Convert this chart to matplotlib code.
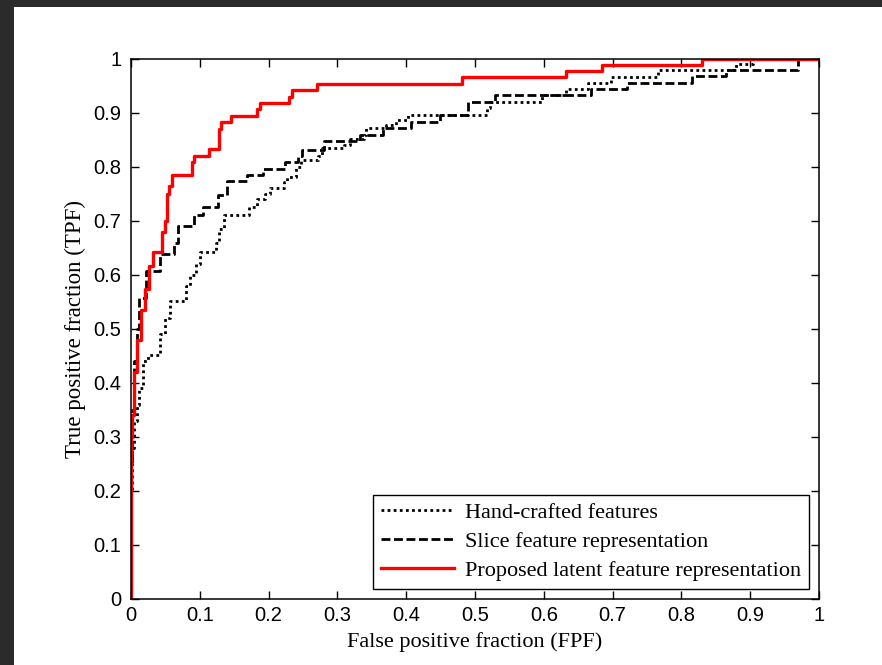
import matplotlib
matplotlib.use("Agg")
import matplotlib.pyplot as plt
from matplotlib.patches import Rectangle

# ROC curves : (fpr where tpr jumps, new tpr)
fpr_hand = [0, 0, 0.002, 0.004, 0.008, 0.012, 0.018, 0.024, 0.042, 0.050, 0.056, 0.080,
            0.086, 0.094, 0.100, 0.123, 0.128, 0.135, 0.172, 0.183, 0.195, 0.202, 0.222,
            0.227, 0.240, 0.247, 0.272, 0.278, 0.310, 0.318, 0.338, 0.342, 0.370, 0.385,
            0.402, 0.517, 0.522, 0.597, 0.632, 0.664, 0.697, 0.766, 0.880, 0.904, 1.0]
tpr_hand = [0, 0.20, 0.28, 0.33, 0.36, 0.39, 0.44, 0.452, 0.49, 0.52, 0.551, 0.58,
            0.60, 0.62, 0.643, 0.66, 0.685, 0.711, 0.726, 0.74, 0.75, 0.762, 0.772,
            0.782, 0.80, 0.813, 0.82, 0.835, 0.84, 0.851, 0.86, 0.872, 0.877, 0.887,
            0.896, 0.91, 0.921, 0.933, 0.944, 0.956, 0.967, 0.98, 0.991, 1.0, 1.0]

fpr_slice = [0, 0, 0.002, 0.004, 0.009, 0.012, 0.022, 0.042, 0.062, 0.069, 0.091, 0.105,
             0.127, 0.139, 0.168, 0.192, 0.224, 0.243, 0.248, 0.281, 0.333, 0.367, 0.407,
             0.449, 0.49, 0.529, 0.669, 0.721, 0.816, 0.865, 0.969, 1.0]
tpr_slice = [0, 0.25, 0.35, 0.44, 0.50, 0.557, 0.607, 0.638, 0.66, 0.69, 0.712, 0.726,
             0.749, 0.774, 0.785, 0.797, 0.81, 0.82, 0.831, 0.848, 0.859, 0.873, 0.884,
             0.896, 0.921, 0.933, 0.944, 0.956, 0.969, 0.98, 1.0, 1.0]

fpr_latent = [0, 0, 0.002, 0.005, 0.009, 0.0145, 0.020, 0.026, 0.032, 0.045, 0.049,
              0.052, 0.055, 0.060, 0.088, 0.092, 0.113, 0.128, 0.131, 0.146, 0.183,
              0.1875, 0.230, 0.234, 0.270, 0.481, 0.632, 0.684, 0.830, 1.0]
tpr_latent = [0, 0.30, 0.34, 0.42, 0.48, 0.535, 0.575, 0.617, 0.642, 0.68, 0.70,
              0.75, 0.765, 0.786, 0.81, 0.82, 0.833, 0.87, 0.883, 0.895, 0.907,
              0.918, 0.93, 0.942, 0.954, 0.966, 0.977, 0.989, 1.0, 1.0]

labels = ["Hand-crafted features", "Slice feature representation",
          "Proposed latent feature representation"]
ticks = [0, 0.1, 0.2, 0.3, 0.4, 0.5, 0.6, 0.7, 0.8, 0.9, 1]
tick_labels = ["0", "0.1", "0.2", "0.3", "0.4", "0.5", "0.6", "0.7", "0.8", "0.9", "1"]

fig = plt.figure(figsize=(8.82, 6.65), dpi=100)
fig.patch.set_facecolor("white")
# bordure sombre en haut et a gauche
fig.patches.append(Rectangle((0, 1 - 7 / 665), 1, 7 / 665, transform=fig.transFigure,
                             facecolor="#2b2b2b", edgecolor="none", zorder=0))
fig.patches.append(Rectangle((0, 0), 14 / 882, 1, transform=fig.transFigure,
                             facecolor="#2b2b2b", edgecolor="none", zorder=0))

ax = fig.add_axes([131 / 882, 1 - 599 / 665, 688 / 882, 540 / 665])

ax.plot(fpr_hand, tpr_hand, drawstyle="steps-post", color="black", lw=2,
        linestyle=(0, (1, 1.2)), label=labels[0])
ax.plot(fpr_slice, tpr_slice, drawstyle="steps-post", color="black", lw=2,
        linestyle=(0, (3.2, 1.3)), label=labels[1])
ax.plot(fpr_latent, tpr_latent, drawstyle="steps-post", color="red", lw=2.4,
        label=labels[2])

ax.set_xlim(0, 1)
ax.set_ylim(0, 1)
ax.set_xticks(ticks)
ax.set_yticks(ticks)
ax.set_xticklabels(tick_labels, family="Liberation Sans", fontsize=14.5)
ax.set_yticklabels(tick_labels, family="Liberation Sans", fontsize=14.5)
ax.tick_params(axis="both", direction="in", length=6, width=1, top=True, right=True)
ax.tick_params(axis="y", pad=7)
ax.tick_params(axis="x", pad=5)
for s in ax.spines.values():
    s.set_linewidth(1.1)

ax.set_xlabel("False positive fraction (FPF)", family="Liberation Serif", fontsize=16, labelpad=5)
ax.set_ylabel("True positive fraction (TPF)", family="Liberation Serif", fontsize=16.5, labelpad=5)

leg = ax.legend(loc="lower right", prop={"family": "Liberation Serif", "size": 16},
                handlelength=3.3, fancybox=False, framealpha=1, edgecolor="black",
                borderaxespad=0.45, labelspacing=0.38, handletextpad=0.5, borderpad=0.35)
leg.get_frame().set_linewidth(1)

fig.savefig("out.png", dpi=100)
